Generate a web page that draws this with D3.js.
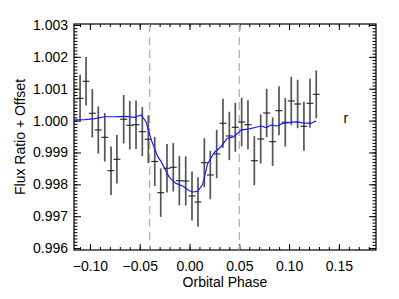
<!DOCTYPE html>
<html>
<head>
<meta charset="utf-8">
<script src="https://cdn.jsdelivr.net/npm/d3@7"></script>
<style>
  body { margin: 0; background: #fff; }
  text { font-family: "Liberation Sans", Arial, sans-serif; }
</style>
</head>
<body>
<div id="vis"></div>
<script>
const WIDTH = 399;
const HEIGHT = 299;
const margin = { top: 24, bottom: 49, left: 74, right: 23 };
const WVIS = WIDTH - margin.left - margin.right;
const HVIS = HEIGHT - margin.top - margin.bottom;

// data points (phase, flux, error)
const phase = [-0.1099, -0.1039, -0.0976, -0.0916, -0.0851, -0.0788, -0.0729, -0.0661, -0.0600, -0.0537,
  -0.0474, -0.0414, -0.0349, -0.0289, -0.0226, -0.0163, -0.0102, -0.0038, 0.0025, 0.0085,
  0.0149, 0.0209, 0.0273, 0.0336, 0.0400, 0.0460, 0.0524, 0.0587, 0.0651, 0.0715,
  0.0775, 0.0835, 0.0899, 0.0962, 0.1022, 0.1086, 0.1149, 0.1210, 0.1273];
const flux = [1.000700, 1.001233, 1.000229, 0.999705, 0.999476, 0.998428, 0.998786, 1.000041, 0.999853, 0.999871,
  0.999652, 0.999413, 0.998717, 0.997738, 0.998504, 0.998535, 0.998115, 0.998105, 0.997635, 0.997446,
  0.998679, 0.998293, 0.998952, 0.999915, 0.999517, 0.999790, 0.999956, 0.999871, 0.998742, 0.999423,
  1.000238, 0.999338, 1.000311, 0.999947, 1.000615, 1.000521, 0.999821, 1.000543, 1.000825];
const fluxErr = [0.00074, 0.00076, 0.00076, 0.00074, 0.00076, 0.00076, 0.00076, 0.00076, 0.00076, 0.00076,
  0.00077, 0.00075, 0.00077, 0.00076, 0.00076, 0.00076, 0.00077, 0.00077, 0.00077, 0.00078,
  0.00077, 0.00076, 0.00076, 0.00077, 0.00076, 0.00077, 0.00076, 0.00077, 0.00077, 0.00077,
  0.00076, 0.00076, 0.00077, 0.00076, 0.00076, 0.00076, 0.00077, 0.00077, 0.00075];

// model curve
const modelPhase = [-0.116, -0.105, -0.095, -0.085, -0.075, -0.065, -0.055, -0.0487, -0.0437, -0.0387,
  -0.0319, -0.0286, -0.0203, -0.0136, -0.0068, -0.0002, 0.0032, 0.0082, 0.0132, 0.0182,
  0.0249, 0.0316, 0.0377, 0.0434, 0.0484, 0.0517, 0.0600, 0.0668, 0.0718, 0.0768,
  0.0819, 0.0886, 0.0936, 0.1036, 0.1086, 0.1137, 0.1220, 0.1270];
const modelFlux = [1.00002, 1.00003, 1.00006, 1.00012, 1.00012, 1.00013, 1.00010, 1.000176, 0.999965, 0.99942,
  0.99887, 0.99872, 0.99822, 0.99803, 0.99795, 0.99780, 0.99776, 0.99778, 0.99800, 0.99865,
  0.99900, 0.99918, 0.99944, 0.99948, 0.99960, 0.99970, 0.99974, 0.99979, 0.99983, 0.99978,
  0.99986, 0.99983, 0.99991, 0.99995, 0.99996, 0.99993, 0.99991, 0.99999];

const transitLines = [-0.04, 0.05];
const xTicks = [-0.10, -0.05, 0.00, 0.05, 0.10, 0.15];
const yTicks = [0.996, 0.997, 0.998, 0.999, 1.000, 1.001, 1.002, 1.003];

const FONT = 14;
const SVG = d3.select("#vis").append("svg").attr("width", WIDTH).attr("height", HEIGHT);
const g = SVG.append("g").attr("transform", `translate(${margin.left} ${margin.top})`);

const escalaX = d3.scaleLinear().domain([-0.116, 0.1873]).range([0, WVIS]);
const escalaY = d3.scaleLinear().domain([0.99594, 1.00303]).range([HVIS, 0]);

const fmtX = (d) => d3.format(".2f")(d).replace("-", "\u2212");
const fmtY = d3.format(".3f");
const minorX = d3.range(-0.11, 0.1805, 0.01);
const minorY = d3.range(0.9960, 1.00305, 0.0001);

function styleAxis(sel) {
  sel.select(".domain").remove();
  sel.selectAll("line").attr("stroke", "#000").attr("stroke-width", 1);
  sel.selectAll("text").attr("font-size", FONT).attr("fill", "#000")
    .attr("font-family", "'Liberation Sans', Arial, sans-serif");
}

// bottom / top
g.append("g").attr("transform", `translate(0 ${HVIS})`)
  .call(d3.axisBottom(escalaX).tickValues(minorX).tickSize(-3).tickSizeOuter(0).tickFormat(""))
  .call(styleAxis);
g.append("g").attr("transform", `translate(0 ${HVIS})`)
  .call(d3.axisBottom(escalaX).tickValues(xTicks).tickSize(-6).tickSizeOuter(0).tickPadding(11).tickFormat(fmtX))
  .call(styleAxis);
g.append("g")
  .call(d3.axisTop(escalaX).tickValues(minorX).tickSize(-3).tickSizeOuter(0).tickFormat(""))
  .call(styleAxis);
g.append("g")
  .call(d3.axisTop(escalaX).tickValues(xTicks).tickSize(-6).tickSizeOuter(0).tickFormat(""))
  .call(styleAxis);

// left / right
g.append("g")
  .call(d3.axisLeft(escalaY).tickValues(minorY).tickSize(-3.5).tickSizeOuter(0).tickFormat(""))
  .call(styleAxis);
g.append("g")
  .call(d3.axisLeft(escalaY).tickValues(yTicks).tickSize(-7).tickSizeOuter(0).tickPadding(6).tickFormat(fmtY))
  .call(styleAxis);
g.append("g").attr("transform", `translate(${WVIS} 0)`)
  .call(d3.axisRight(escalaY).tickValues(minorY).tickSize(-3.5).tickSizeOuter(0).tickFormat(""))
  .call(styleAxis);
g.append("g").attr("transform", `translate(${WVIS} 0)`)
  .call(d3.axisRight(escalaY).tickValues(yTicks).tickSize(-7).tickSizeOuter(0).tickFormat(""))
  .call(styleAxis);

// frame
g.append("rect").attr("width", WVIS).attr("height", HVIS)
  .attr("fill", "none").attr("stroke", "#000").attr("stroke-width", 1.2);

// transit dashed lines
g.selectAll(".transit").data(transitLines).join("line")
  .attr("class", "transit")
  .attr("x1", (d) => escalaX(d)).attr("x2", (d) => escalaX(d))
  .attr("y1", 0).attr("y2", HVIS)
  .attr("stroke", "#baa998").attr("stroke-width", 1.2).attr("stroke-dasharray", "8,5");

// error bars
const puntos = phase.map((p, i) => ({ p: p, f: flux[i], e: fluxErr[i] }));
g.selectAll(".err").data(puntos).join("line")
  .attr("class", "err")
  .attr("x1", (d) => escalaX(d.p)).attr("x2", (d) => escalaX(d.p))
  .attr("y1", (d) => escalaY(d.f - d.e)).attr("y2", (d) => escalaY(d.f + d.e))
  .attr("stroke", "#555").attr("stroke-width", 1.7);
g.selectAll(".cap").data(puntos).join("line")
  .attr("class", "cap")
  .attr("x1", (d) => escalaX(d.p) - 3.5).attr("x2", (d) => escalaX(d.p) + 3.5)
  .attr("y1", (d) => escalaY(d.f)).attr("y2", (d) => escalaY(d.f))
  .attr("stroke", "#222").attr("stroke-width", 1.1);

// model
const linea = d3.line().x((d, i) => escalaX(modelPhase[i])).y((d) => escalaY(d));
g.append("path").datum(modelFlux)
  .attr("d", linea)
  .attr("fill", "none").attr("stroke", "#1a1aff").attr("stroke-width", 1.2);

// labels
g.append("text").attr("x", escalaX(0.157)).attr("y", escalaY(0.99993))
  .attr("font-size", FONT).attr("text-anchor", "middle").text("r");

SVG.append("text")
  .attr("x", margin.left + WVIS / 2).attr("y", 287)
  .attr("text-anchor", "middle").attr("font-size", FONT).text("Orbital Phase");

SVG.append("text")
  .attr("transform", `translate(25 ${margin.top + HVIS / 2}) rotate(-90)`)
  .attr("text-anchor", "middle").attr("font-size", FONT).text("Flux Ratio + Offset");
</script>
</body>
</html>
